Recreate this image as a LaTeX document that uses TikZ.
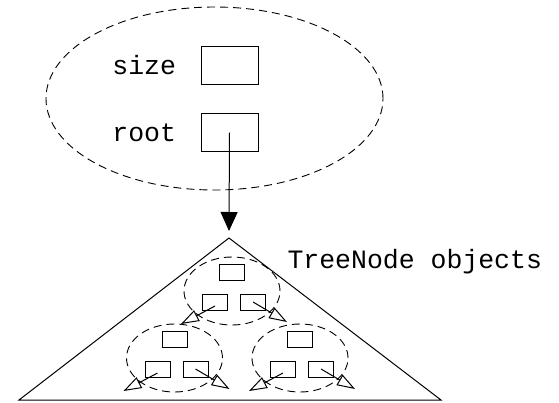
\documentclass[tikz,border=0pt]{standalone}
\usepackage{fontspec}
\setmonofont{Liberation Mono}
\usetikzlibrary{arrows.meta, positioning}

\tikzset{
  field/.style={draw, line width=1pt, minimum width=57pt, minimum height=38pt, inner sep=0pt},
  slot/.style={draw, line width=1pt, minimum width=25pt, minimum height=16pt, inner sep=0pt},
  fieldname/.style={font=\ttfamily\fontsize{26.5}{30}\selectfont, inner sep=0pt},
  group/.style={dash pattern=on 8pt off 5pt, line width=0.9pt},
  link/.style={-{Triangle[open, length=18pt, width=12pt]}, line width=1pt},
}

\begin{document}
\begin{tikzpicture}[x=1pt, y=-1pt, line width=1pt]
  \useasboundingbox (0,0) rectangle (559,402);

  % the object holding size and root
  \draw[group] (214.5,98.5) ellipse [x radius=168.5pt, y radius=91.5pt];
  \node[field] (size) at (229.5,65) {};
  \node[field] (root) at (229.5,132.5) {};
  \node[fieldname, left=24pt of size] (sizetext) {size};
  \node[fieldname, left=24pt of root] (roottext) {root};

  % the tree
  \coordinate (apex) at (229,238);
  \coordinate (tip) at (229,231);
  \draw (19,400) -- (apex) -- (441,400) -- cycle;
  \draw[-{Triangle[length=19pt, width=17pt]}] (root.center) -- (tip);
  \node[fieldname, anchor=west] (objects) at (287,262) {TreeNode objects};

  \foreach \n/\cx/\cy in {t/232/291, l/174.5/358, r/300/358} {
    \draw[group] (\cx,\cy) ellipse [x radius=48pt, y radius=34pt];
    \node[slot] (\n v) at ({\cx},{\cy-19}) {};
    \node[slot] (\n l) at ({\cx-17},{\cy+11}) {};
    \node[slot] (\n r) at ({\cx+21},{\cy+11}) {};
    \coordinate (\n ll) at ({\cx-51},{\cy+33});
    \coordinate (\n rr) at ({\cx+55},{\cy+31});
    \draw[link] ([yshift=-4pt]\n l.center) -- (\n ll);
    \draw[link] (\n r.center) -- (\n rr);
  }
\end{tikzpicture}
\end{document}
